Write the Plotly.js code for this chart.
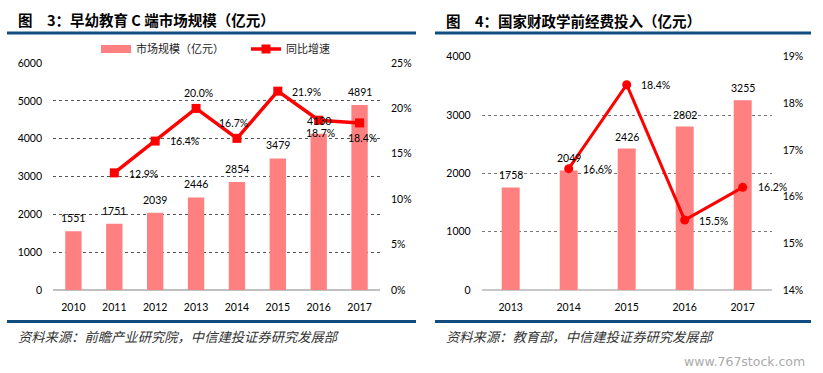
<!DOCTYPE html>
<html>
<head>
<meta charset="utf-8">
<script src="https://cdn.plot.ly/plotly-3.0.1.min.js"></script>
<style>
html,body{margin:0;padding:0;background:#fff;}
#chart{width:823px;height:373px;}
</style>
</head>
<body>
<div id="chart"></div>
<script>
// ---- data ----
const years1 = ['2010','2011','2012','2013','2014','2015','2016','2017'];
const marketSize = [1551,1751,2039,2446,2854,3479,4130,4891];
const growth1 = [null,12.9,16.4,20.0,16.7,21.9,18.7,18.4];

const years2 = ['2013','2014','2015','2016','2017'];
const funding = [1758,2049,2426,2802,3255];
const growth2 = [null,16.6,18.4,15.5,16.2];

const title1 = '图\u30003：早幼教育 C 端市场规模（亿元）';
const title2 = '图\u30004：国家财政学前经费投入（亿元）';
const source1 = '资料来源：前瞻产业研究院，中信建投证券研究发展部';
const source2 = '资料来源：教育部，中信建投证券研究发展部';
const legendNames = ['市场规模（亿元）','同比增速'];

// ---- label placement (pixel offsets, style only) ----
const g1Shift = [[0,0],[29,-1],[29,0],[2,15],[-3,15],[29,-1],[2,-13],[3,-15]];
const g2Shift = [[0,0],[29,0],[29,0],[29,-1],[30,0]];

const W = 823, H = 373;
const px = x => x / W;
const py = y => (H - y) / H;

const barColor = '#FF8080';
const lineColor = '#FF0000';
const navy = '#114C80';
const FONT = 'Lato, "Noto Sans CJK SC", sans-serif';
const CJK = '"Noto Sans CJK SC", sans-serif';
const labelFont = {family:FONT,size:10.5,color:'#000'};

const traces = [
  {type:'bar', x:years1, y:marketSize, xaxis:'x', yaxis:'y',
   marker:{color:barColor}, width:0.4, showlegend:false, hoverinfo:'skip'},
  {type:'scatter', mode:'lines', x:[null], y:[null], xaxis:'x', yaxis:'y',
   name:legendNames[0], line:{color:barColor,width:8}, showlegend:true},
  {type:'scatter', mode:'lines+markers', x:years1, y:growth1, xaxis:'x', yaxis:'y2',
   name:legendNames[1], line:{color:lineColor,width:3.5},
   marker:{symbol:'square',size:9,color:lineColor}, cliponaxis:false, connectgaps:false},
  {type:'bar', x:years2, y:funding, xaxis:'x2', yaxis:'y3',
   marker:{color:barColor}, width:0.31, showlegend:false},
  {type:'scatter', mode:'lines+markers', x:years2, y:growth2, xaxis:'x2', yaxis:'y4',
   line:{color:lineColor,width:3}, marker:{symbol:'circle',size:9,color:lineColor},
   cliponaxis:false, showlegend:false}
];

// annotations on category axes use the category index
const annotations = [];
marketSize.forEach((v,i) => annotations.push({xref:'x', yref:'y', x:i, y:v, text:String(v),
  showarrow:false, yshift:13, xanchor:'center', yanchor:'middle', font:labelFont}));
funding.forEach((v,i) => annotations.push({xref:'x2', yref:'y3', x:i, y:v, text:String(v),
  showarrow:false, yshift:12, xanchor:'center', yanchor:'middle', font:labelFont}));
growth1.forEach((v,i) => { if (v==null) return; annotations.push({xref:'x', yref:'y2', x:i, y:v,
  text:v.toFixed(1)+'%', showarrow:false, xshift:g1Shift[i][0], yshift:g1Shift[i][1],
  xanchor:'center', yanchor:'middle', font:labelFont}); });
growth2.forEach((v,i) => { if (v==null) return; annotations.push({xref:'x2', yref:'y4', x:i, y:v,
  text:v.toFixed(1)+'%', showarrow:false, xshift:g2Shift[i][0], yshift:g2Shift[i][1],
  xanchor:'center', yanchor:'middle', font:labelFont}); });

annotations.push(
  {xref:'paper', yref:'paper', x:px(16), y:py(19.5), xanchor:'left', yanchor:'middle', showarrow:false,
   text:'<b>'+title1+'</b>', font:{family:CJK,size:14.5,color:'#000'}},
  {xref:'paper', yref:'paper', x:px(444), y:py(20.5), xanchor:'left', yanchor:'middle', showarrow:false,
   text:'<b>'+title2+'</b>', font:{family:CJK,size:14.5,color:'#000'}},
  {xref:'paper', yref:'paper', x:px(16), y:py(336), xanchor:'left', yanchor:'middle', showarrow:false,
   text:'<i>'+source1+'</i>', font:{family:CJK,size:13.3,color:'#333'}},
  {xref:'paper', yref:'paper', x:px(444), y:py(336), xanchor:'left', yanchor:'middle', showarrow:false,
   text:'<i>'+source2+'</i>', font:{family:CJK,size:13.3,color:'#333'}},
  {xref:'paper', yref:'paper', x:px(807), y:py(361), xanchor:'right', yanchor:'middle', showarrow:false,
   text:'www.767stock.com', font:{family:'DejaVu Sans',size:12.5,color:'#aaaaaa'}}
);

const tickF = {family:FONT,size:10.5,color:'#000'};
const layout = {
  width:W, height:H, margin:{l:0,r:0,t:0,b:0},
  paper_bgcolor:'#fff', plot_bgcolor:'#fff',
  font:{family:FONT,size:11,color:'#000'},
  showlegend:true,
  legend:{orientation:'h', x:px(96), xanchor:'left', y:py(49), yanchor:'middle',
    font:{family:CJK,size:11,color:'#222'}, bgcolor:'rgba(0,0,0,0)', itemwidth:30, entrywidth:105},
  xaxis:{domain:[px(53),px(380)], anchor:'y', type:'category', range:[-0.5, years1.length-0.5],
    autorange:false, showgrid:false, showline:false, zeroline:false, ticks:'', tickfont:tickF, ticklabelstandoff:9},
  yaxis:{domain:[py(290),py(63)], anchor:'x', range:[0,6000], dtick:1000, showgrid:true,
    gridcolor:'#555', griddash:'dot', gridwidth:1, zeroline:true, zerolinecolor:'#c0c0c0',
    zerolinewidth:2, showline:false, ticks:'', tickfont:tickF, ticklabelstandoff:10},
  yaxis2:{overlaying:'y', side:'right', anchor:'x', range:[0,25], dtick:5, ticksuffix:'%',
    showgrid:false, zeroline:false, showline:false, ticks:'', tickfont:tickF, ticklabelstandoff:10},
  xaxis2:{domain:[px(481.7),px(771.7)], anchor:'y3', type:'category', range:[-0.5, years2.length-0.5],
    autorange:false, showgrid:false, showline:false, zeroline:false, ticks:'', tickfont:tickF, ticklabelstandoff:9},
  yaxis3:{domain:[py(290),py(56.7)], anchor:'x2', range:[0,4000], dtick:1000, showgrid:true,
    gridcolor:'#777', griddash:'dot', gridwidth:1, zeroline:true, zerolinecolor:'#c8c8c8',
    zerolinewidth:2, showline:false, ticks:'', tickfont:tickF, ticklabelstandoff:10},
  yaxis4:{overlaying:'y3', side:'right', anchor:'x2', range:[14,19], dtick:1, ticksuffix:'%',
    showgrid:false, zeroline:false, showline:false, ticks:'', tickfont:tickF, ticklabelstandoff:10},
  shapes:[
    {type:'line', xref:'paper', yref:'paper', x0:px(7), x1:px(416), y0:py(33), y1:py(33), line:{color:navy,width:3}},
    {type:'line', xref:'paper', yref:'paper', x0:px(435), x1:px(811), y0:py(33), y1:py(33), line:{color:navy,width:3}},
    {type:'line', xref:'paper', yref:'paper', x0:px(7), x1:px(416), y0:py(321.5), y1:py(321.5), line:{color:navy,width:3}},
    {type:'line', xref:'paper', yref:'paper', x0:px(435), x1:px(811), y0:py(321.5), y1:py(321.5), line:{color:navy,width:3}}
  ],
  annotations:annotations
};

Plotly.newPlot('chart', traces, layout, {displayModeBar:false, staticPlot:true});
</script>
</body>
</html>
